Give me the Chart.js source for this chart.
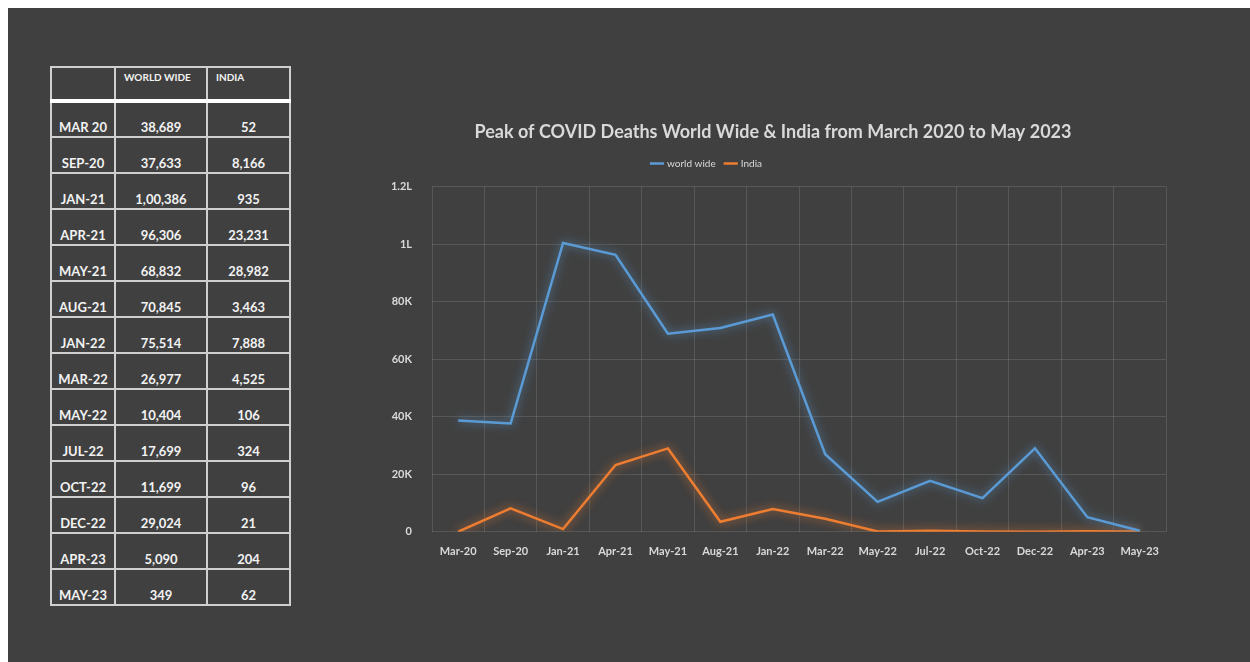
<!DOCTYPE html>
<html>
<head>
<meta charset="utf-8">
<script src="https://cdn.jsdelivr.net/npm/chart.js@4.4.0/dist/chart.umd.min.js"></script>
<style>
  html, body { margin: 0; padding: 0; background: #ffffff; }
  #wrap { position: absolute; left: 8px; top: 8px; width: 1242px; height: 654px; background: #404040; overflow: hidden; }
  #tbl { position: absolute; left: 50px; top: 66px; border-collapse: collapse; table-layout: fixed; font-family: Lato, "Open Sans", sans-serif; font-weight: bold; color: #f2f2f2; }
  #tbl td, #tbl th { border: 2px solid #cfcfcf; padding: 0; }
  #tbl th { height: 34px; font-size: 10px; text-align: left; vertical-align: top; padding: 3px 0 0 8px; box-sizing: border-box; }
  #tbl thead tr th { border-bottom: 4px solid #ffffff; }
  #tbl td { height: 36px; font-size: 13px; text-align: center; vertical-align: bottom; padding-bottom: 1px; box-sizing: border-box; }
  #chartBox { position: absolute; left: 360px; top: 110px; width: 830px; height: 483px; }
</style>
</head>
<body>
<div id="wrap"></div>
<table id="tbl">
  <thead><tr><th style="width:64px"></th><th style="width:92px">WORLD WIDE</th><th style="width:83px">INDIA</th></tr></thead>
  <tbody id="tbody"></tbody>
</table>
<div id="chartBox"><canvas id="covidChart"></canvas></div>
<script>
const months = ['Mar-20', 'Sep-20', 'Jan-21', 'Apr-21', 'May-21', 'Aug-21', 'Jan-22', 'Mar-22', 'May-22', 'Jul-22', 'Oct-22', 'Dec-22', 'Apr-23', 'May-23'];
const tableMonths = ['MAR 20', 'SEP-20', 'JAN-21', 'APR-21', 'MAY-21', 'AUG-21', 'JAN-22', 'MAR-22', 'MAY-22', 'JUL-22', 'OCT-22', 'DEC-22', 'APR-23', 'MAY-23'];
const worldWide = [38689, 37633, 100386, 96306, 68832, 70845, 75514, 26977, 10404, 17699, 11699, 29024, 5090, 349];
const india = [52, 8166, 935, 23231, 28982, 3463, 7888, 4525, 106, 324, 96, 21, 204, 62];
const yTickLabels = ['0', '20K', '40K', '60K', '80K', '1L', '1.2L'];

// format numbers the indian way (1,00,386)
function formatIN(n) {
    const s = String(n);
    if (s.length <= 3) return s;
    let last3 = s.slice(-3);
    let rest = s.slice(0, -3);
    rest = rest.replace(/\B(?=(\d{2})+(?!\d))/g, ',');
    return rest + ',' + last3;
}

const tbody = document.getElementById('tbody');
tableMonths.forEach((m, i) => {
    const tr = document.createElement('tr');
    tr.innerHTML = '<td>' + m + '</td><td>' + formatIN(worldWide[i]) + '</td><td>' + formatIN(india[i]) + '</td>';
    tbody.appendChild(tr);
});

// glow round the lines
const glowPlugin = {
    id: 'glow',
    beforeDatasetDraw(chart, args) {
        const ds = chart.data.datasets[args.index];
        chart.ctx.save();
        chart.ctx.shadowColor = ds.glowColor;
        chart.ctx.shadowBlur = 10;
    },
    afterDatasetDraw(chart) {
        chart.ctx.restore();
    }
};

// legend: a bit more room below it, moved left; title a little to the right
const layoutTweak = {
    id: 'layoutTweak',
    beforeInit(chart) {
        const fit = chart.legend.fit;
        chart.legend.fit = function () {
            fit.bind(chart.legend)();
            this.height += 8;
        };
    },
    afterLayout(chart) {
        chart.legend.left -= 56;
        chart.legend.right -= 56;
        chart.titleBlock.left += 10;
        chart.titleBlock.right += 10;
    }
};

const tickFont = { family: 'Lato, "Open Sans", sans-serif', size: 11, weight: 'bold' };

const ctx = document.getElementById('covidChart').getContext('2d');
new Chart(ctx, {
    type: 'line',
    data: {
        labels: months,
        datasets: [{
            label: 'world wide',
            data: worldWide,
            borderColor: '#5b9bd5',
            backgroundColor: '#5b9bd5',
            glowColor: 'rgba(91, 155, 213, 0.85)',
            borderWidth: 2.5,
            pointRadius: 0,
            tension: 0,
            fill: false
        }, {
            label: 'India',
            data: india,
            borderColor: '#ed7d31',
            backgroundColor: '#ed7d31',
            glowColor: 'rgba(237, 125, 49, 0.85)',
            borderWidth: 2.5,
            pointRadius: 0,
            tension: 0,
            fill: false
        }]
    },
    options: {
        responsive: true,
        maintainAspectRatio: false,
        animation: false,
        layout: { padding: { left: 0, right: 24, top: 0, bottom: 22 } },
        plugins: {
            title: {
                display: true,
                text: 'Peak of COVID Deaths World Wide & India from March 2020 to May 2023',
                color: '#d9d9d9',
                font: { family: 'Lato, "Open Sans", sans-serif', size: 18, weight: 'bold' },
                padding: { top: 11, bottom: 6 }
            },
            legend: {
                display: true,
                labels: {
                    usePointStyle: true,
                    pointStyle: 'line',
                    boxWidth: 18,
                    color: '#d9d9d9',
                    font: { family: 'Lato, "Open Sans", sans-serif', size: 10 },
                    padding: 10
                }
            },
            tooltip: { enabled: false }
        },
        scales: {
            x: {
                offset: true,
                grid: { color: 'rgba(255,255,255,0.12)', offset: true, drawTicks: false },
                border: { display: false },
                ticks: { color: '#d9d9d9', font: tickFont, maxRotation: 0, autoSkip: false, padding: 13 }
            },
            y: {
                min: 0,
                max: 120000,
                afterFit(scale) { scale.width = 72; },
                grid: { color: 'rgba(255,255,255,0.12)', drawTicks: false },
                border: { display: false },
                ticks: {
                    stepSize: 20000,
                    color: '#d9d9d9',
                    font: tickFont,
                    padding: 20,
                    callback: (value, index) => yTickLabels[index]
                }
            }
        }
    },
    plugins: [glowPlugin, layoutTweak]
});
</script>
</body>
</html>
